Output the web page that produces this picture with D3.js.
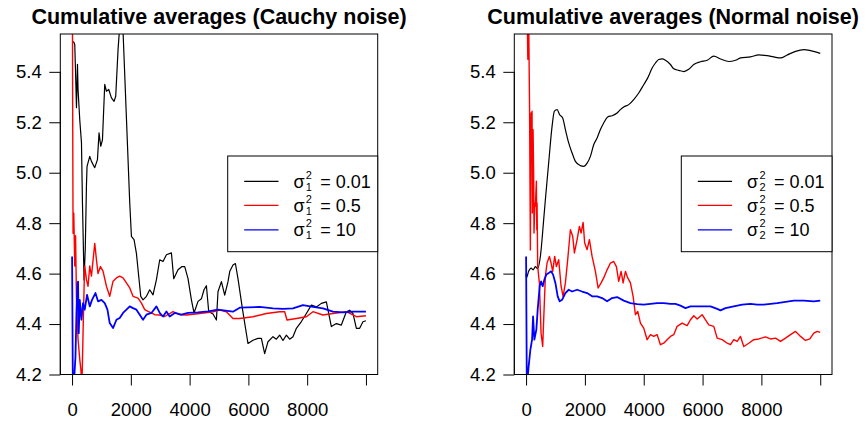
<!DOCTYPE html>
<html>
<head>
<meta charset="utf-8">
<script src="https://cdn.jsdelivr.net/npm/d3@7"></script>
<style>
  html, body { margin: 0; padding: 0; background: #fff; }
  svg { display: block; }
  text { font-family: "Liberation Sans", Arial, Helvetica, sans-serif; fill: #000; }
</style>
</head>
<body>
<svg id="chart" width="866" height="425"></svg>
<script>
// ---------------- data ----------------
const titles = ["Cumulative averages (Cauchy noise)", "Cumulative averages (Normal noise)"];
const xTicks = [0, 2000, 4000, 6000, 8000, 10000];
const xTickLabels = ["0", "2000", "4000", "6000", "8000", ""];
const yTicks = [4.2, 4.4, 4.6, 4.8, 5.0, 5.2, 5.4];
const yTickLabels = ["4.2", "4.4", "4.6", "4.8", "5.0", "5.2", "5.4"];
const xDomain = [-400, 10400];
const yDomain = [4.2, 5.55];
const seriesColors = ["#000000", "#FF0000", "#0000FF"];
const legendValues = ["0.01", "0.5", "10"];
const legendSubscripts = ["1", "2"];

// Cauchy noise panel
const cauchyBlack = [[1,5.52],[58,5.518],[92,5.508],[116,5.41],[150,5.258],[184,5.43],[204,5.33],[262,5.21],[320,5.12],[354,4.88],[408,4.575],[450,4.7],[490,4.95],[510,5.025],[602,5.065],[660,5.045],[772,5.02],[864,5.052],[918,5.158],[976,5.105],[1034,5.13],[1112,5.35],[1170,5.323],[1248,5.33],[1340,5.297],[1429,5.283],[1486,5.303],[1565,5.488],[1646,5.62],[1735,5.56],[1963,4.88],[2020,4.748],[2109,4.735],[2190,4.68],[2337,4.51],[2415,4.496],[2531,4.51],[2643,4.536],[2755,4.516],[2871,4.576],[2983,4.655],[3095,4.648],[3211,4.675],[3381,4.682],[3459,4.58],[3605,4.615],[3741,4.628],[3834,4.628],[3946,4.58],[4061,4.496],[4150,4.444],[4286,4.49],[4401,4.5],[4490,4.536],[4571,4.552],[4650,4.45],[4796,4.44],[4912,4.416],[4966,4.528],[5082,4.568],[5194,4.515],[5306,4.568],[5364,4.608],[5476,4.634],[5558,4.64],[5646,4.58],[5796,4.461],[5986,4.323],[6156,4.336],[6327,4.343],[6442,4.343],[6554,4.283],[6667,4.33],[6837,4.35],[6952,4.34],[7065,4.356],[7177,4.335],[7293,4.356],[7405,4.34],[7517,4.35],[7633,4.383],[7803,4.41],[7973,4.442],[8143,4.475],[8313,4.468],[8483,4.482],[8653,4.488],[8823,4.39],[8993,4.402],[9163,4.396],[9333,4.449],[9446,4.455],[9558,4.442],[9674,4.383],[9786,4.383],[9898,4.409],[10000,4.413]];
const cauchyRed = [[1,6.2],[20,5.3],[34,4.76],[58,4.84],[92,4.63],[120,4.75],[150,4.5],[204,4.34],[262,4.26],[300,4.22],[335,4.15],[374,4.364],[410,4.55],[432,4.63],[490,4.576],[544,4.55],[602,4.63],[660,4.59],[772,4.72],[830,4.655],[884,4.6],[966,4.628],[1054,4.61],[1170,4.55],[1282,4.51],[1395,4.57],[1510,4.583],[1622,4.59],[1735,4.583],[1850,4.563],[1963,4.543],[2075,4.51],[2245,4.503],[2361,4.483],[2473,4.457],[2585,4.45],[2701,4.444],[2813,4.437],[2983,4.436],[3153,4.43],[3435,4.449],[3663,4.437],[3891,4.436],[4344,4.442],[4796,4.449],[5024,4.455],[5252,4.449],[5476,4.422],[5704,4.422],[6156,4.429],[6612,4.442],[7065,4.449],[7235,4.449],[7313,4.416],[7633,4.422],[7973,4.429],[8197,4.449],[8537,4.436],[8878,4.442],[9333,4.449],[9674,4.429],[10000,4.433]];
const cauchyBlue = [[1,4.668],[30,4.1],[116,4.27],[150,4.445],[184,4.563],[204,4.568],[228,4.364],[262,4.496],[320,4.417],[374,4.483],[432,4.457],[510,4.516],[602,4.47],[680,4.496],[796,4.523],[884,4.49],[1000,4.496],[1112,4.483],[1204,4.457],[1282,4.404],[1395,4.384],[1510,4.417],[1622,4.424],[1735,4.444],[1850,4.457],[1963,4.47],[2075,4.463],[2190,4.457],[2303,4.437],[2415,4.417],[2531,4.437],[2701,4.444],[2871,4.47],[2983,4.444],[3095,4.43],[3211,4.45],[3323,4.43],[3493,4.444],[3721,4.437],[3946,4.444],[4286,4.446],[4626,4.45],[4966,4.457],[5476,4.449],[5704,4.465],[6384,4.468],[6837,4.462],[7177,4.46],[7517,4.462],[7857,4.475],[8197,4.468],[8537,4.462],[8878,4.449],[9218,4.446],[9558,4.449],[10000,4.449]];

// Normal noise panel
const normalBlack = [[1,4.6],[10,4.583],[88,4.609],[170,4.622],[238,4.615],[316,4.628],[395,4.62],[486,4.668],[599,4.814],[656,4.893],[769,5.04],[884,5.184],[963,5.244],[1054,5.25],[1143,5.23],[1245,5.217],[1337,5.171],[1449,5.118],[1565,5.078],[1677,5.045],[1847,5.028],[1959,5.025],[2075,5.038],[2187,5.065],[2299,5.111],[2415,5.138],[2527,5.171],[2639,5.197],[2776,5.221],[2925,5.226],[3095,5.237],[3207,5.25],[3320,5.261],[3490,5.27],[3660,5.29],[3830,5.316],[4000,5.349],[4136,5.376],[4286,5.415],[4398,5.435],[4510,5.449],[4626,5.451],[4738,5.446],[4908,5.429],[5020,5.412],[5190,5.406],[5361,5.401],[5531,5.41],[5701,5.429],[5929,5.44],[6156,5.446],[6381,5.462],[6609,5.451],[6891,5.441],[7119,5.446],[7289,5.455],[7629,5.459],[7912,5.467],[8197,5.464],[8422,5.459],[8650,5.455],[8878,5.467],[9160,5.481],[9442,5.488],[9670,5.484],[10000,5.473]];
const normalRed = [[1,5.6],[30,5.7],[60,5.45],[90,5.6],[120,5.24],[146,4.694],[170,5.237],[180,5.105],[204,5.244],[215,4.84],[238,5.171],[259,4.986],[270,4.761],[300,4.88],[316,4.867],[350,4.966],[365,4.774],[374,4.88],[395,4.629],[452,4.563],[510,4.364],[565,4.311],[599,4.417],[656,4.589],[714,4.642],[793,4.668],[850,4.642],[905,4.609],[973,4.668],[1031,4.628],[1109,4.655],[1190,4.55],[1259,4.51],[1337,4.563],[1415,4.655],[1507,4.774],[1585,4.748],[1643,4.682],[1735,4.735],[1813,4.787],[1871,4.761],[1939,4.803],[1993,4.721],[2075,4.695],[2153,4.735],[2245,4.668],[2357,4.609],[2449,4.543],[2551,4.563],[2639,4.583],[2755,4.615],[2867,4.642],[2980,4.648],[3071,4.628],[3150,4.569],[3231,4.609],[3299,4.563],[3378,4.609],[3456,4.583],[3548,4.563],[3639,4.51],[3718,4.437],[3796,4.45],[3888,4.404],[4000,4.384],[4116,4.338],[4228,4.358],[4340,4.351],[4456,4.358],[4568,4.318],[4680,4.324],[4796,4.338],[4908,4.351],[5020,4.358],[5136,4.391],[5306,4.404],[5476,4.394],[5588,4.417],[5701,4.433],[5816,4.42],[5986,4.437],[6099,4.417],[6211,4.397],[6381,4.391],[6497,4.344],[6667,4.338],[6837,4.324],[6949,4.318],[7061,4.338],[7177,4.331],[7289,4.351],[7401,4.311],[7571,4.324],[7741,4.338],[7912,4.341],[8139,4.349],[8310,4.341],[8480,4.344],[8650,4.331],[8820,4.344],[8990,4.358],[9160,4.371],[9330,4.351],[9500,4.335],[9646,4.341],[9782,4.364],[9898,4.371],[10000,4.367]];
const normalBlue = [[1,4.668],[25,4.15],[88,4.232],[146,4.298],[204,4.338],[238,4.43],[282,4.338],[350,4.378],[395,4.457],[463,4.55],[510,4.569],[565,4.55],[622,4.576],[690,4.596],[769,4.602],[850,4.609],[918,4.596],[997,4.563],[1075,4.51],[1143,4.49],[1224,4.496],[1337,4.523],[1449,4.536],[1565,4.529],[1735,4.536],[1905,4.529],[2075,4.523],[2245,4.51],[2415,4.51],[2585,4.503],[2755,4.49],[2925,4.503],[3095,4.507],[3320,4.493],[3548,4.483],[3776,4.479],[4000,4.477],[4228,4.48],[4456,4.483],[4680,4.483],[4908,4.48],[5078,4.48],[5248,4.473],[5418,4.463],[5588,4.47],[5816,4.47],[6041,4.47],[6269,4.47],[6497,4.46],[6609,4.454],[6779,4.463],[7061,4.47],[7347,4.477],[7629,4.48],[7857,4.477],[8082,4.477],[8310,4.48],[8537,4.483],[8820,4.488],[9102,4.493],[9442,4.493],[9782,4.49],[10000,4.493]];

const panelSeries = [
  [cauchyBlack, cauchyRed, cauchyBlue],
  [normalBlack, normalRed, normalBlue]
];

// ---------------- layout ----------------
const svg = d3.select("#chart");
const boxTop = 34, boxBottom = 374.5;
const panelBoxes = [[60.3, 377.7], [514.3, 832]];
const tickLen = 11;
const fontAxis = 18.5;

panelBoxes.forEach((bx, pi) => {
  const [L, R] = bx;
  const x = d3.scaleLinear().domain(xDomain).range([L, R]);
  const y = d3.scaleLinear().domain(yDomain).range([boxBottom, boxTop]);
  const g = svg.append("g");

  const clipId = "clip" + pi;
  svg.append("clipPath").attr("id", clipId)
    .append("rect").attr("x", L).attr("y", boxTop).attr("width", R - L).attr("height", boxBottom - boxTop);

  // series
  const line = d3.line().x(d => x(d[0])).y(d => y(d[1]));
  const lineSmooth = d3.line().x(d => x(d[0])).y(d => y(d[1])).curve(d3.curveMonotoneX);
  [0, 1, 2].forEach(si => {
    const data = panelSeries[pi][si];
    const gen = (pi === 1 && si === 0) ? lineSmooth : line;
    g.append("path")
      .attr("clip-path", `url(#${clipId})`)
      .attr("d", gen(data))
      .attr("fill", "none")
      .attr("stroke", seriesColors[si])
      .attr("stroke-width", si === 2 ? 1.8 : (si === 1 ? 1.4 : 1.2))
      .attr("stroke-linejoin", "round");
  });

  // box
  g.append("rect").attr("x", L).attr("y", boxTop).attr("width", R - L).attr("height", boxBottom - boxTop)
    .attr("fill", "none").attr("stroke", "#000").attr("stroke-width", 1);

  // x axis
  const xAxis = d3.axisBottom(x).tickValues(xTicks).tickSize(tickLen).tickPadding(17)
    .tickFormat((d, i) => xTickLabels[i]);
  const gx = g.append("g").attr("transform", `translate(0,${boxBottom})`).call(xAxis);
  gx.select(".domain").remove();
  gx.append("line").attr("x1", x(xTicks[0])).attr("x2", x(xTicks[xTicks.length - 1]))
    .attr("y1", 0).attr("y2", 0).attr("stroke", "#000");
  gx.selectAll("text").attr("font-size", fontAxis).attr("font-family", null).attr("fill", "#000");
  gx.selectAll("line").attr("stroke", "#000");

  // y axis
  const yAxis = d3.axisLeft(y).tickValues(yTicks).tickSize(tickLen).tickPadding(7.6)
    .tickFormat((d, i) => yTickLabels[i]);
  const gy = g.append("g").attr("transform", `translate(${L},0)`).call(yAxis);
  gy.select(".domain").remove();
  gy.append("line").attr("y1", y(yTicks[0])).attr("y2", y(yTicks[yTicks.length - 1]))
    .attr("x1", 0).attr("x2", 0).attr("stroke", "#000");
  gy.selectAll("text").attr("font-size", fontAxis).attr("font-family", null).attr("fill", "#000");
  gy.selectAll("line").attr("stroke", "#000");

  // title
  g.append("text").attr("x", (L + R) / 2).attr("y", 23.5)
    .attr("text-anchor", "middle").attr("font-weight", "bold").attr("font-size", 21.5)
    .text(titles[pi]);

  // legend
  const legL = pi === 0 ? 227.7 : 681.3;
  const legT = 156, legB = 251.7;
  const lg = g.append("g");
  lg.append("rect").attr("x", legL).attr("y", legT).attr("width", R - legL).attr("height", legB - legT)
    .attr("fill", "#fff").attr("stroke", "#000").attr("stroke-width", 1);
  const rowY = [181.3, 205.3, 229.8];
  seriesColors.forEach((c, si) => {
    const ry = rowY[si];
    lg.append("line").attr("x1", legL + 16.5).attr("x2", legL + 50.8)
      .attr("y1", ry).attr("y2", ry).attr("stroke", c).attr("stroke-width", 1.2);
    const tx = legL + 65.8;
    const sig = lg.append("text").attr("x", tx).attr("y", ry + 6.6).attr("font-size", 18).text("σ");
    const sw = sig.node().getComputedTextLength();
    lg.append("text").attr("x", tx + sw + 1.2).attr("y", ry - 2.8).attr("font-size", 11).text("2");
    lg.append("text").attr("x", tx + sw + 1.2).attr("y", ry + 9.2).attr("font-size", 11).text(legendSubscripts[pi]);
    lg.append("text").attr("x", tx + 26.8).attr("y", ry + 6.6).attr("font-size", 18)
      .text("= " + legendValues[si]);
  });
});
</script>
</body>
</html>
